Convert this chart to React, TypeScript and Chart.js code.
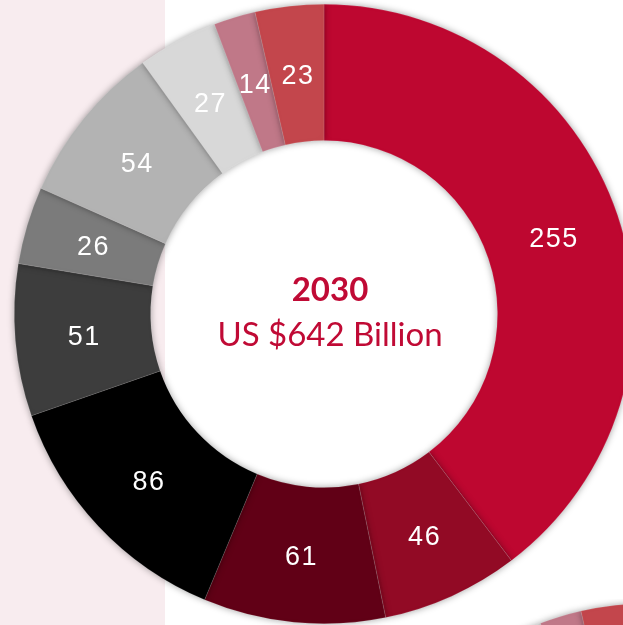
import React, { useEffect, useRef } from "react";
import { Chart, registerables } from "chart.js";

Chart.register(...registerables);

// Market segments, 2030 (US$ billion), clockwise from 12 o'clock
const segmentValues = [255, 46, 61, 86, 51, 26, 54, 27, 14, 23];
const segmentLabels = ["A", "B", "C", "D", "E", "F", "G", "H", "I", "J"];
const segmentColors = [
  "#be0730",
  "#920a25",
  "#610016",
  "#000000",
  "#3d3d3d",
  "#7b7b7b",
  "#b3b3b3",
  "#d8d8d8",
  "#c07888",
  "#c3464c",
];
const centerYear = "2030";
const centerTotal = "US $642 Billion";

// Neighbouring chart, only a fragment is visible at the bottom right
const nextValues = [255, 46, 61, 86, 51, 26, 54, 27, 14, 23];
const nextColors = segmentColors;

const shadowPlugin = {
  id: "softShadow",
  beforeDatasetDraw(chart: any) {
    const ctx = chart.ctx;
    ctx.save();
    ctx.shadowColor = "rgba(0,0,0,0.38)";
    ctx.shadowBlur = 7;
  },
  afterDatasetDraw(chart: any) {
    chart.ctx.restore();
  },
};

const valueLabelPlugin = {
  id: "valueLabels",
  afterDatasetsDraw(chart: any) {
    const ctx = chart.ctx;
    const meta = chart.getDatasetMeta(0);
    ctx.save();
    ctx.fillStyle = "#ffffff";
    ctx.font = "27px 'Liberation Sans', Arial, sans-serif";
    (ctx as any).letterSpacing = "1.5px";
    ctx.textAlign = "center";
    ctx.textBaseline = "middle";
    meta.data.forEach((arc: any, i: number) => {
      const p = arc.tooltipPosition(true);
      ctx.fillText(String(chart.data.datasets[0].data[i]), p.x + 1, p.y + 3);
    });
    ctx.restore();
  },
};

const centerTextPlugin = {
  id: "centerText",
  afterDraw(chart: any) {
    const ctx = chart.ctx;
    const arc = chart.getDatasetMeta(0).data[0];
    if (!arc) return;
    const cx = arc.x;
    const cy = arc.y;
    ctx.save();
    ctx.fillStyle = "#c00a35";
    ctx.textAlign = "center";
    ctx.textBaseline = "middle";
    ctx.font = "bold 33px Lato, 'Open Sans', sans-serif";
    ctx.fillText(centerYear, cx + 6, cy - 24);
    ctx.font = "33px Lato, 'Open Sans', sans-serif";
    ctx.fillText(centerTotal, cx + 6, cy + 21);
    ctx.restore();
  },
};

export default function App() {
  const mainRef = useRef<HTMLCanvasElement>(null);
  const nextRef = useRef<HTMLCanvasElement>(null);

  useEffect(() => {
    if (!mainRef.current || !nextRef.current) return;
    const main = new Chart(mainRef.current, {
      type: "doughnut",
      data: {
        labels: segmentLabels,
        datasets: [
          {
            data: segmentValues,
            backgroundColor: segmentColors,
            borderColor: "rgba(255,255,255,0.25)",
            borderWidth: 0.5,
          },
        ],
      },
      options: {
        responsive: false,
        animation: false,
        cutout: "56%",
        layout: { padding: 4 },
        plugins: { legend: { display: false }, tooltip: { enabled: false } },
      },
      plugins: [shadowPlugin, valueLabelPlugin, centerTextPlugin],
    });
    const next = new Chart(nextRef.current, {
      type: "doughnut",
      data: {
        labels: segmentLabels,
        datasets: [
          {
            data: nextValues,
            backgroundColor: nextColors,
            borderColor: "rgba(255,255,255,0.25)",
            borderWidth: 0.5,
          },
        ],
      },
      options: {
        responsive: false,
        animation: false,
        cutout: "56%",
        layout: { padding: 4 },
        plugins: { legend: { display: false }, tooltip: { enabled: false } },
      },
      plugins: [shadowPlugin],
    });
    return () => {
      main.destroy();
      next.destroy();
    };
  }, []);

  return (
    <div
      style={{
        position: "fixed",
        left: 0,
        top: 0,
        width: 623,
        height: 625,
        overflow: "hidden",
        background: "linear-gradient(to right, #f8ecef 0px, #f8ecef 165px, #ffffff 165px)",
      }}
    >
      <canvas
        ref={mainRef}
        width={648}
        height={628}
        style={{ position: "absolute", left: 0, top: 0, width: 648, height: 628 }}
      />
      <canvas
        ref={nextRef}
        width={648}
        height={628}
        style={{ position: "absolute", left: 326, top: 599, width: 648, height: 628 }}
      />
    </div>
  );
}
